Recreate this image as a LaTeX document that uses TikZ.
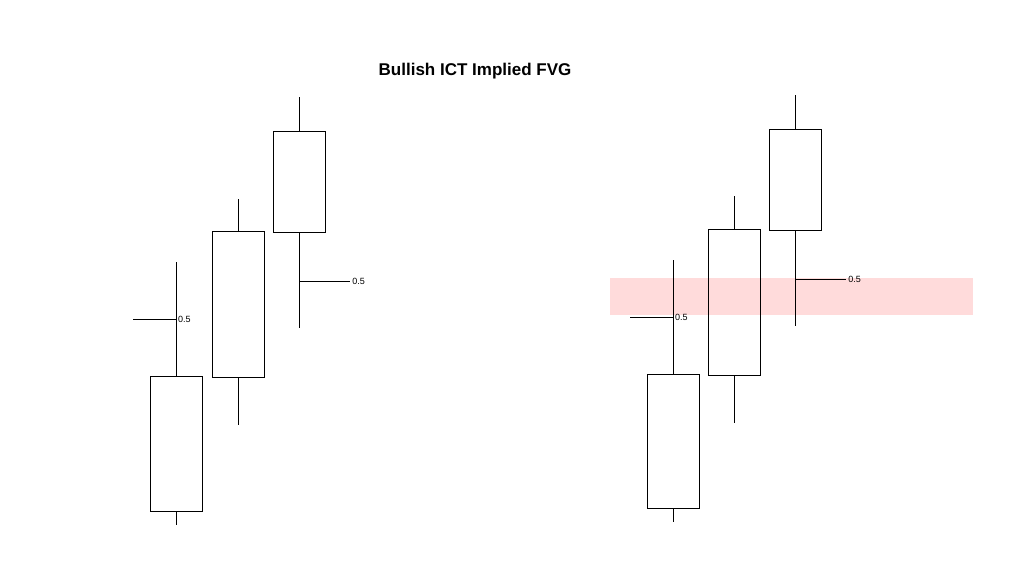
\documentclass[tikz,border=0pt]{standalone}
\usepackage{fontspec}
\setmainfont{Liberation Sans}
\usetikzlibrary{positioning, calc}

\tikzset{
  body/.style={draw, line width=0.7pt, inner sep=0pt, minimum width=52pt},
  wick/.style={line width=0.7pt},
  level/.style={font=\fontsize{9}{10}\selectfont, right, inner sep=2pt},
}

% candle: name, center x, body top, body bottom, wick top, wick bottom
\newcommand{\candle}[6]{%
  \node[body, minimum height={#4-#3}] (#1) at (#2,{(#3+#4)/2}) {};
  \coordinate (#1 hi) at (#2,#5);
  \coordinate (#1 lo) at (#2,#6);
  \draw[wick] (#1.north) -- (#1 hi);
  \draw[wick] (#1.south) -- (#1 lo);
}

\begin{document}
\begin{tikzpicture}[x=1pt, y=-1pt]
\useasboundingbox (0,0) rectangle (1024,575);

% Titel
\node[font=\bfseries\fontsize{17}{20}\selectfont] (title) at (475,71) {Bullish ICT Implied FVG};

% Links
\candle{lA}{176}{376}{511}{262}{525}
\candle{lB}{238}{231}{377}{199}{425}
\candle{lC}{299}{131}{232}{97}{328}
\coordinate (lA mid) at (176,319);
\coordinate (lC mid) at (299,281);
\draw[wick] (lA mid) -- ++(-43,0) coordinate (lA tick);
\draw[wick] (lC mid) -- ++(51,0) node[level] (lC lbl) {0.5};
\node[level] (lA lbl) at (lA mid) {0.5};

% Rechts, mit FVG-Zone
\fill[red!60!pink, opacity=0.2] (610,278) rectangle (973,315);
\candle{rA}{673}{374}{508}{260}{522}
\candle{rB}{734}{229}{375}{196}{423}
\candle{rC}{795}{129}{230}{95}{326}
\coordinate (rA mid) at (673,317);
\coordinate (rC mid) at (795,279);
\draw[wick] (rA mid) -- ++(-43,0) coordinate (rA tick);
\draw[wick] (rC mid) -- ++(51,0) node[level] (rC lbl) {0.5};
\node[level] (rA lbl) at (rA mid) {0.5};

\end{tikzpicture}
\end{document}
